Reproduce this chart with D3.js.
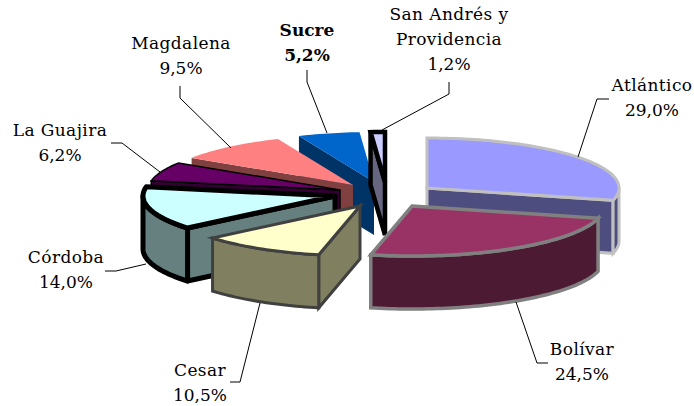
<!DOCTYPE html>
<html>
<head>
<meta charset="utf-8">
<script src="https://d3js.org/d3.v7.min.js"></script>
<style>
  html, body { margin: 0; padding: 0; background: #fff; }
  text { font-family: "DejaVu Serif", serif; font-size: 17px; fill: #000; }
</style>
</head>
<body>
<div id="chart"></div>
<script>
// Data
var departments = ["Atlántico", "Bolívar", "Cesar", "Córdoba", "La Guajira", "Magdalena", "Sucre", "San Andrés y Providencia"];
var shares = [29.0, 24.5, 10.5, 14.0, 6.2, 9.5, 5.2, 1.2];
var shareLabels = ["29,0%", "24,5%", "10,5%", "14,0%", "6,2%", "9,5%", "5,2%", "1,2%"];

// Styling per slice
var topColors = ["#9999ff", "#993366", "#ffffcc", "#ccffff", "#660066", "#ff8080", "#0066cc", "#ccccff"];
var wallColors = ["#4d4d80", "#4d1a33", "#808060", "#668080", "#330033", "#804040", "#003366", "#666680"];
var strokeColors = ["#c0c0c0", "#808080", "#404040", "#000", "#000", "none", "none", "#000"];
var strokeWidths = [3, 3.5, 3, 5, 1.5, 0, 0, 4.5];
// how far each slice was pulled out of the pie, in pixels
var explode = [[47, -2], [32, 16], [-20, 16], [-45, 6], [-40, 0], [-27, -5], [-6, -8], [5, -8]];
// painter order, back to front
var drawOrder = [0, 6, 7, 5, 4, 3, 1, 2];

var svgWidth = 694;
var svgHeight = 406;
var center = { x: 380, y: 190 };
var radiusX = 192;
var radiusY = 50;
var depth = 53;

// Labels and leader lines
var labelSpots = [
  { x: 652, y: 91 }, { x: 582, y: 355 }, { x: 200, y: 376 }, { x: 66, y: 263 },
  { x: 60, y: 136 }, { x: 181, y: 49 }, { x: 307, y: 36 }, { x: 449, y: 20 }
];
var leaders = [
  [[609, 99], [597, 99], [578, 157]],
  [[516, 302], [537, 363], [548, 363]],
  [[260, 303], [240, 382], [230, 382]],
  [[146, 264], [116, 271], [105, 271]],
  [[160, 172], [122, 143], [111, 143]],
  [[180, 86], [180, 98], [231, 148]],
  [[307, 70], [307, 82], [327, 133]],
  [[449, 82], [449, 94], [382, 130]]
];

var svg = d3.select("#chart")
  .append("svg")
  .attr("width", svgWidth)
  .attr("height", svgHeight);

// Unit circle to flattened ellipse
var xScale = d3.scaleLinear().domain([-1, 1]).range([-radiusX, radiusX]);
var yScale = d3.scaleLinear().domain([-1, 1]).range([-radiusY, radiusY]);

var pie = d3.pie().sort(null).value(d => d);
var slices = pie(shares);
var line = d3.line();

function rim(apex, angle, drop) {
  return [apex.x + xScale(Math.sin(angle)), apex.y + yScale(-Math.cos(angle)) + drop];
}

function arcPoints(apex, a0, a1, drop) {
  var n = Math.max(2, Math.ceil((a1 - a0) * 40));
  return d3.range(n + 1).map(i => rim(apex, a0 + (a1 - a0) * i / n, drop));
}

function face(g, points, fill, i) {
  g.append("path")
    .attr("d", line(points) + "Z")
    .attr("fill", fill)
    .attr("stroke", strokeColors[i])
    .attr("stroke-width", strokeWidths[i])
    .attr("stroke-linejoin", i === 3 ? "round" : "miter");
}

function radialWall(g, apex, angle, i) {
  face(g, [[apex.x, apex.y], rim(apex, angle, 0), rim(apex, angle, depth), [apex.x, apex.y + depth]], wallColors[i], i);
}

drawOrder.forEach(function(i) {
  var s = slices[i];
  var apex = { x: center.x + explode[i][0], y: center.y + explode[i][1] };
  var g = svg.append("g").attr("class", "slice");

  // cut faces turned towards the viewer
  if (Math.cos(s.startAngle - Math.PI / 2) < 0) radialWall(g, apex, s.startAngle, i);
  if (Math.cos(s.endAngle + Math.PI / 2) < 0) radialWall(g, apex, s.endAngle, i);

  // outer rim, only the front half of the ellipse shows
  var a0 = Math.max(s.startAngle, Math.PI / 2);
  var a1 = Math.min(s.endAngle, Math.PI * 3 / 2);
  if (a1 > a0) {
    var upper = arcPoints(apex, a0, a1, 0);
    var lower = arcPoints(apex, a0, a1, depth).reverse();
    face(g, upper.concat(lower), wallColors[i], i);
  }

  // top
  face(g, [[apex.x, apex.y]].concat(arcPoints(apex, s.startAngle, s.endAngle, 0)), topColors[i], i);
});

// Leader lines
svg.selectAll(".leader")
  .data(leaders)
  .enter()
  .append("path")
  .attr("class", "leader")
  .attr("d", d => line(d))
  .attr("fill", "none")
  .attr("stroke", "#000")
  .attr("stroke-width", 1);

// Labels
departments.forEach(function(name, i) {
  var bold = name === "Sucre";
  var rows = name === "San Andrés y Providencia" ? ["San Andrés y", "Providencia"] : [name];
  rows = rows.concat(shareLabels[i]);
  var t = svg.append("text")
    .attr("x", labelSpots[i].x)
    .attr("y", labelSpots[i].y)
    .attr("text-anchor", "middle")
    .style("font-weight", bold ? "bold" : "normal");
  t.selectAll("tspan")
    .data(rows)
    .enter()
    .append("tspan")
    .attr("x", labelSpots[i].x)
    .attr("dy", (d, j) => j === 0 ? 0 : 25)
    .style("letter-spacing", (d, j) => !bold && j < rows.length - 1 ? "0.4px" : null)
    .text(d => d);
});
</script>
</body>
</html>
